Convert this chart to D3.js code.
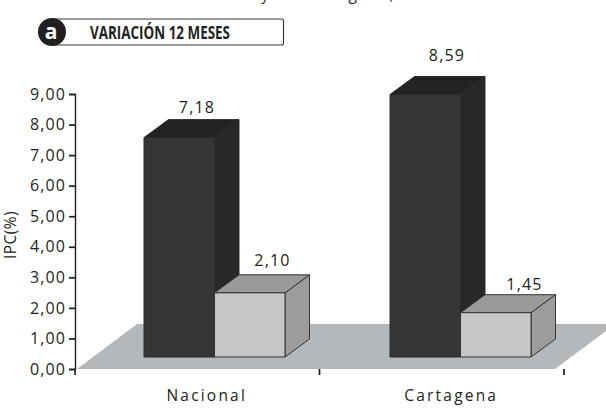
<!DOCTYPE html>
<html><head><meta charset="utf-8">
<script src="https://cdn.jsdelivr.net/npm/d3@7/dist/d3.min.js"></script>
<style>html,body{margin:0;padding:0;background:#fff}svg{display:block}text{font-family:"Open Sans",sans-serif;fill:#231f20}</style>
</head><body><svg width="606" height="410"></svg>
<script>
const categories = ["Nacional", "Cartagena"];
const seriesDark = [7.18, 8.59];
const seriesLight = [2.10, 1.45];
const labelsDark = ["7,18", "8,59"];
const labelsLight = ["2,10", "1,45"];
const yTicks = [0,1,2,3,4,5,6,7,8,9];
const badgeLetter = "a";
const badgeTitle = "VARIACIÓN 12 MESES";
const yTitle = "IPC(%)";
const headline = "Variación del IPC Nacional y en Cartagena, en diciembre";

const svg = d3.select("svg");
const M = {l:75, r:564, t:94, b:369};
const y = d3.scaleLinear().domain([0,9]).range([M.b,M.t]);
const x0 = d3.scaleBand().domain(categories).range([M.l,M.r]);
const x1 = d3.scaleBand().domain([0,1]).range([0,141]);
const depth = {dx:24.5, dy:-18}, lift = 12, shift = 69;
const barTop = v => y(v) - lift;
const baseY = y(0) - lift;

// headline cropped by the top edge, as in the reference
svg.append("text").attr("x",31).attr("y",0)
  .attr("font-size",16).attr("letter-spacing",1.2).style("fill","#333").text(headline);

// floor
svg.append("polygon").attr("fill","#b5b8ba")
 .attr("points",[[M.l+2,M.b],[137,324],[606,324],[606,331],[555,M.b]].join(" "));

// y axis
const yAxis = d3.axisLeft(y).tickValues(yTicks).tickSize(6).tickPadding(3)
  .tickFormat(d => d3.format(".2f")(d).replace(".",","));
const gy = svg.append("g").attr("transform",`translate(${M.l},0)`).call(yAxis);
gy.select(".domain").attr("stroke","#231f20").attr("stroke-width",1.4);
gy.selectAll(".tick line").attr("stroke","#231f20").attr("stroke-width",1.7);
gy.selectAll(".tick text").attr("font-size",16).attr("letter-spacing",1.1).style("fill","#231f20");

// x axis ticks
const xTicks = [...categories.map(c=>x0(c)), M.r];
svg.append("g").selectAll("line").data(xTicks).join("line")
 .attr("x1",d=>d).attr("x2",d=>d).attr("y1",M.b).attr("y2",M.b+6)
 .attr("stroke","#231f20").attr("stroke-width",1.7);
svg.append("g").selectAll("text").data(categories).join("text")
 .attr("x",d=>x0(d)+x0.bandwidth()/2+9.5).attr("y",401).attr("text-anchor","middle")
 .attr("font-size",15.5).attr("letter-spacing",2.2).text(d=>d);

function box(px, w, v, colors){
  const t = barTop(v), d = depth;
  const g = svg.append("g").attr("stroke-linejoin","round");
  g.append("polygon").attr("fill",colors.side).attr("stroke",colors.stroke).attr("stroke-width",1)
   .attr("points",[[px+w,baseY],[px+w,t],[px+w+d.dx,t+d.dy],[px+w+d.dx,baseY+d.dy]].join(" "));
  g.append("polygon").attr("fill",colors.top).attr("stroke",colors.stroke).attr("stroke-width",1)
   .attr("points",[[px,t],[px+d.dx,t+d.dy],[px+w+d.dx,t+d.dy],[px+w,t]].join(" "));
  g.append("rect").attr("x",px).attr("y",t).attr("width",w).attr("height",baseY-t)
   .attr("fill",colors.front).attr("stroke",colors.stroke).attr("stroke-width",1);
}
const darkC = {front:"#363636",side:"#282828",top:"#232323",stroke:"#2b2b2b"};
const lightC = {front:"#c6c6c6",side:"#9c9c9c",top:"#9a9a9a",stroke:"#333"};
const darkLabelGap = [25, 34];
const lightLabelGap = [27, 23];
const darkLabelDx = [53, 57];
const lightLabelDx = [58, 64];
categories.forEach((c,i)=>{
  const off = x0(c)+ (i===0?shift:shift+1.5);
  box(off+x1(0), x1.bandwidth(), seriesDark[i], darkC);
  box(off+x1(1), x1.bandwidth(), seriesLight[i], lightC);
  svg.append("text").attr("x",off+x1(0)+darkLabelDx[i]).attr("y",barTop(seriesDark[i])-darkLabelGap[i])
    .attr("text-anchor","middle").attr("font-size",16).attr("letter-spacing",1.2).text(labelsDark[i]);
  svg.append("text").attr("x",off+x1(1)+lightLabelDx[i]).attr("y",barTop(seriesLight[i])-lightLabelGap[i])
    .attr("text-anchor","middle").attr("font-size",16).attr("letter-spacing",1.2).text(labelsLight[i]);
});

// y title
svg.append("text").attr("transform","translate(16,235) rotate(-90)").attr("text-anchor","middle")
  .attr("font-size",15.5).attr("letter-spacing",0.4).text(yTitle);

// badge
svg.append("rect").attr("x",50).attr("y",19).attr("width",233.5).attr("height",26).attr("rx",2)
  .attr("fill","#fff").attr("stroke","#3a3a3a").attr("stroke-width",1.2);
svg.append("circle").attr("cx",52).attr("cy",32).attr("r",14).attr("fill","#231f20");
svg.append("text").attr("x",51).attr("y",39).attr("text-anchor","middle").attr("font-size",21).attr("font-weight",700)
  .style("fill","#fff").text(badgeLetter);
svg.append("text").attr("x",90).attr("y",39).attr("font-size",17).attr("font-weight",700)
  .style("font-family",'"Liberation Sans Narrow","Open Sans",sans-serif')
  .attr("textLength",140).attr("lengthAdjust","spacingAndGlyphs").text(badgeTitle);
</script></body></html>
